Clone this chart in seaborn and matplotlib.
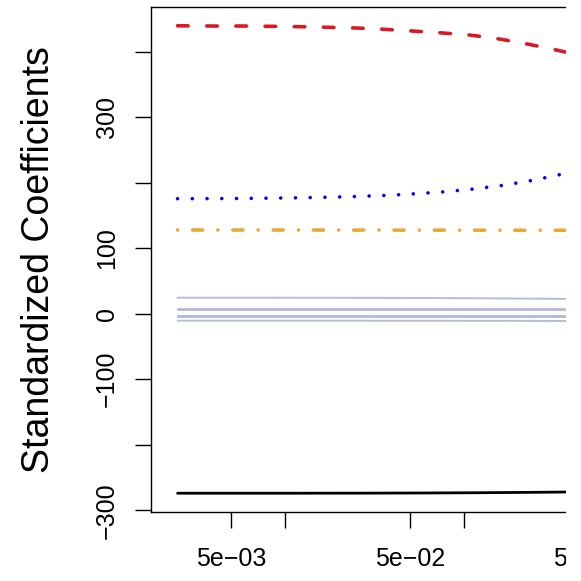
import numpy as np
import pandas as pd
import matplotlib
matplotlib.use("Agg")
import matplotlib.pyplot as plt
from matplotlib.patches import Rectangle
import seaborn as sns

# ---------------- data ----------------
lambdas = [0.0025, 0.004, 0.006, 0.008, 0.012, 0.018, 0.025, 0.035,
           0.05, 0.075, 0.11, 0.16, 0.23, 0.33, 0.42]

income = [-274.0, -274.0, -274.0, -274.0, -274.0, -273.9, -273.9, -273.8,
          -273.7, -273.5, -273.3, -273.0, -272.7, -272.3, -272.0]
limit = [439.4, 439.0, 439.0, 438.6, 438.0, 437.0, 436.0, 434.2,
         431.6, 428.5, 425.0, 419.0, 411.3, 402.4, 396.0]
rating = [175.5, 175.6, 175.9, 176.3, 176.9, 177.8, 178.9, 180.3,
          182.5, 185.7, 189.8, 195.3, 202.3, 211.0, 217.5]
student = [127.7, 127.7, 127.7, 127.7, 127.7, 127.6, 127.6, 127.6,
           127.5, 127.5, 127.4, 127.4, 127.3, 127.3, 127.2]
cards = [24.4, 24.4, 24.4, 24.4, 24.3, 24.3, 24.2, 24.1,
         24.0, 23.8, 23.6, 23.3, 23.0, 22.7, 22.4]
asian = [7.5] * 15
caucasian = [5.9] * 15
education = [-3.4] * 15
gender = [-5.4] * 15
married = [-4.6] * 15
age = [-10.7, -10.7, -10.7, -10.7, -10.7, -10.7, -10.7, -10.8,
       -10.8, -10.8, -10.9, -10.9, -11.0, -11.1, -11.2]

y_ticks = [-300, -200, -100, 0, 100, 200, 300, 400]
y_ticklabels = ["\u2212300", "", "\u2212100", "0", "100", "", "300", ""]
x_ticks = [0.005, 0.01, 0.05, 0.1, 0.5, 1, 5, 10]
x_ticklabels = ["5e\u221203", "", "5e\u221202", "", "5e\u221201", "", "5e+00", ""]

# ---------------- style ----------------
sns.set_style("ticks")
plt.rcParams["font.family"] = ["Liberation Sans", "DejaVu Sans"]
plt.rcParams["lines.scale_dashes"] = False

W = H = 581
fig = plt.figure(figsize=(W / 100, H / 100), dpi=100)

# axes placement in pixels (axes extends beyond right edge, as in the cropped source)
left_px, top_px, bottom_px = 151.5, 6.7, 511.7
xlim = (10 ** -2.748, 10 ** 0.957)
decade_px = 180.7
width_px = decade_px * (np.log10(xlim[1]) - np.log10(xlim[0]))
ax = fig.add_axes([left_px / W, (H - bottom_px) / H, width_px / W,
                   (bottom_px - top_px) / H])

grey = "#B3BDD9"
for vals in [cards, asian, caucasian, married, education, gender, age]:
    sns.lineplot(x=lambdas, y=vals, ax=ax, color=grey, lw=1.4,
                 solid_capstyle="round")

sns.lineplot(x=lambdas, y=income, ax=ax, color="black", lw=2.0,
             solid_capstyle="round")
sns.lineplot(x=lambdas, y=limit, ax=ax, color="#DA1A22", lw=2.6,
             dash_capstyle="round")
ax.lines[-1].set_dashes((7.6, 13.4))
sns.lineplot(x=lambdas, y=rating, ax=ax, color="#0000F2", lw=2.6,
             dash_capstyle="round")
ax.lines[-1].set_dashes((0.01, 10.6))
sns.lineplot(x=lambdas, y=student, ax=ax, color="#E6A93B", lw=2.6,
             dash_capstyle="round")
ax.lines[-1].set_dashes((0.01, 10.8, 7.2, 11.0))

ax.set_xscale("log")
ax.set_xlim(*xlim)
ax.set_ylim(-302.2, 468.5)

ax.set_xticks(x_ticks)
ax.set_xticklabels(x_ticklabels)
ax.minorticks_off()
ax.set_yticks(y_ticks)
ax.set_yticklabels(y_ticklabels, rotation=90, va="center")

ax.tick_params(axis="both", direction="out", length=11.8, width=1.0,
               color="black", labelsize=18, labelcolor="black")
ax.tick_params(axis="y", pad=11.5)
ax.tick_params(axis="x", pad=13.5)
ax.xaxis.set_minor_locator(matplotlib.ticker.NullLocator())

for s in ["left", "top", "bottom"]:
    ax.spines[s].set_visible(True)
    ax.spines[s].set_color("black")
    ax.spines[s].set_linewidth(1.0)
ax.spines["right"].set_visible(False)
ax.set_xlabel("")
ax.set_ylabel("")

fig.text(38.7 / W, 1 - 260 / H, "Standardized Coefficients", rotation=90,
         ha="center", va="center", fontsize=27, color="black")

# the source image is cut at ~566 px with white to the right
fig.add_artist(Rectangle((566 / W, 0), (W - 566) / W, 1,
                         transform=fig.transFigure, facecolor="white",
                         edgecolor="none", zorder=1000))

fig.savefig("out.png", dpi=100)
